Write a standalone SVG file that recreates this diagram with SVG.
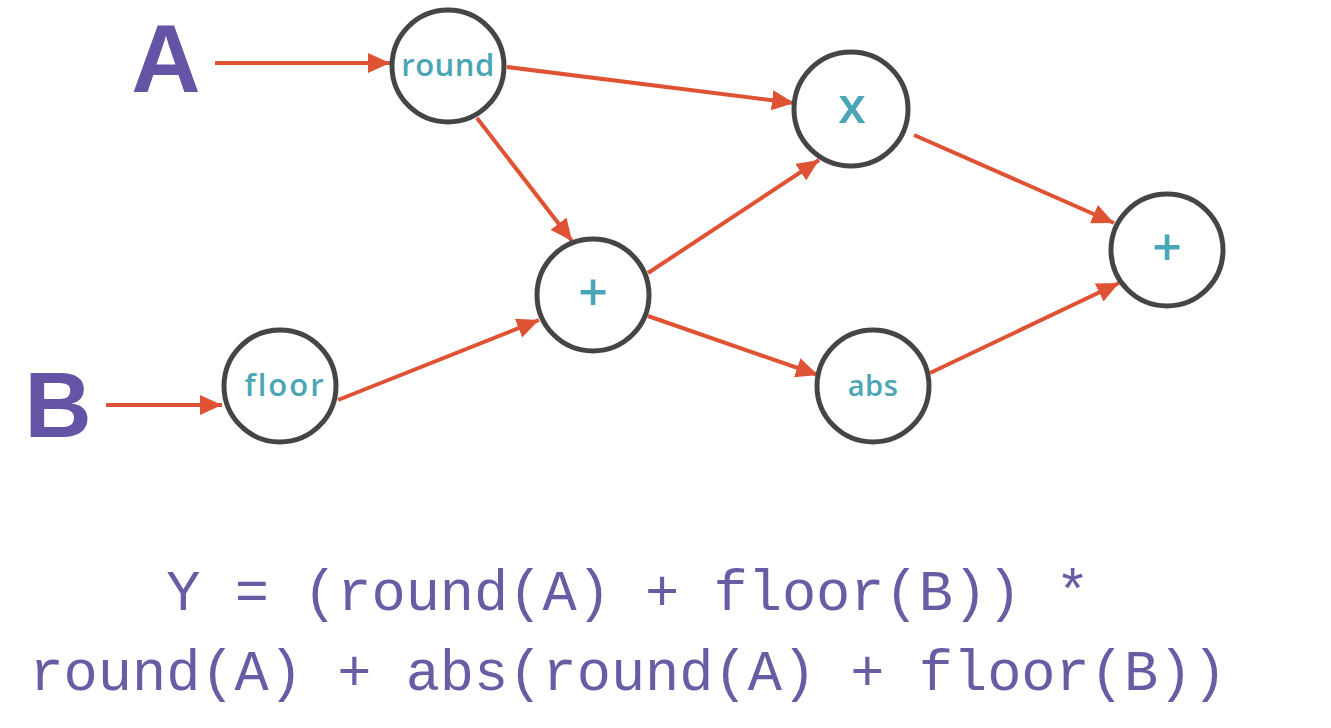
<svg xmlns="http://www.w3.org/2000/svg" width="1331" height="728" viewBox="0 0 1331 728">
<style>
.node circle{fill:#ffffff;stroke:#454545;stroke-width:5}
.lbl{font-family:"Open Sans","Noto Sans",sans-serif;font-weight:600;fill:#4aa6b6;text-anchor:middle}
.in{font-family:"Liberation Sans","Noto Sans",sans-serif;font-weight:700;fill:#6554a6;text-anchor:middle}
.edge line{stroke:#e05234;stroke-width:4;marker-end:url(#ah)}
.eq{font-family:"Liberation Mono","DejaVu Sans Mono",monospace;fill:#6a5ba5;font-size:57px;text-anchor:middle}
</style>
<defs>
<marker id="ah" markerUnits="userSpaceOnUse" markerWidth="22" markerHeight="20" refX="22" refY="10" orient="auto">
<path d="M0,0 L22,10 L0,20 z" fill="#e05234"/>
</marker>
</defs>
<rect width="1331" height="728" fill="#ffffff"/>
<g id="edges" class="edge">
<line x1="215" y1="63" x2="390" y2="63"/>
<line x1="106" y1="405" x2="222" y2="405"/>
<line x1="507" y1="67" x2="794" y2="103"/>
<line x1="477" y1="118" x2="572" y2="241"/>
<line x1="338" y1="400" x2="539" y2="320"/>
<line x1="648" y1="273" x2="819" y2="160"/>
<line x1="648" y1="316" x2="818" y2="375"/>
<line x1="914" y1="135" x2="1114" y2="223"/>
<line x1="930" y1="373" x2="1119" y2="283"/>
</g>
<g id="input-A"><text class="in" x="166" y="92" font-size="96">A</text></g>
<g id="input-B"><text class="in" x="58" y="437" font-size="93">B</text></g>
<g id="node-round" class="node"><circle cx="448" cy="66" r="56"/><text class="lbl" x="448" y="76" font-size="31" letter-spacing="0.5">round</text></g>
<g id="node-floor" class="node"><circle cx="280" cy="386" r="56"/><text class="lbl" x="285" y="396" font-size="31" letter-spacing="2">floor</text></g>
<g id="node-plus1" class="node"><circle cx="593" cy="295" r="56"/><text class="lbl" x="593" y="311" font-size="52" font-weight="700">+</text></g>
<g id="node-mul" class="node"><circle cx="851" cy="109" r="57"/><text class="lbl" x="852" y="123" font-size="50">x</text></g>
<g id="node-abs" class="node"><circle cx="873" cy="386" r="56"/><text class="lbl" x="873" y="396" font-size="29" letter-spacing="0.5">abs</text></g>
<g id="node-plus2" class="node"><circle cx="1167" cy="250" r="56"/><text class="lbl" x="1167" y="266" font-size="52" font-weight="700">+</text></g>
<g id="equation">
<text class="eq" x="628" y="610">Y = (round(A) + floor(B)) *</text>
<text class="eq" x="628" y="690">round(A) + abs(round(A) + floor(B))</text>
</g>
</svg>
